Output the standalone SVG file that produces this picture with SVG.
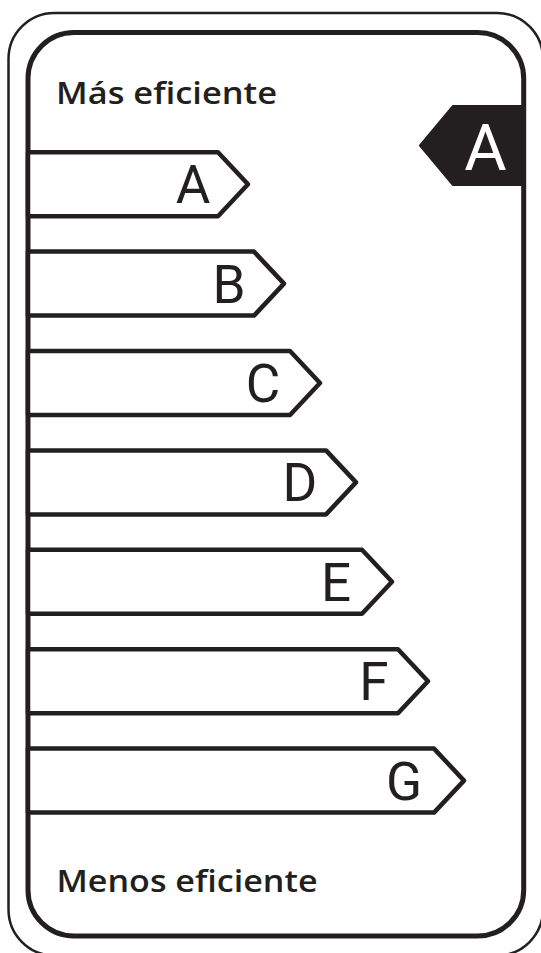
<svg xmlns="http://www.w3.org/2000/svg" width="541" height="953" viewBox="0 0 541 953">
<style>
.frame{fill:none;stroke:#231f20}
.bar{fill:#fff;stroke:#231f20;stroke-width:4.5;stroke-linejoin:round}
.lt{font-family:Roboto,"Liberation Sans",Arial,sans-serif;font-weight:400;font-size:53px;fill:#231f20;text-anchor:middle}
.hd{font-family:"Open Sans","Liberation Sans",sans-serif;font-weight:600;font-size:30px;fill:#231f20}
</style>
<rect width="541" height="953" fill="#fff"/>
<g id="frame">
<rect class="frame" x="8.5" y="13" width="534.5" height="942.5" rx="46" ry="46" stroke-width="2.5"/>
<rect class="frame" x="28" y="32.5" width="495.7" height="903.5" rx="46" ry="46" stroke-width="5"/>
</g>
<g id="title-top"><text class="hd" x="56" y="103.5" textLength="221" lengthAdjust="spacingAndGlyphs">Más eficiente</text></g>
<g id="title-bottom"><text class="hd" x="56.5" y="892" textLength="261" lengthAdjust="spacingAndGlyphs">Menos eficiente</text></g>
<g id="bar-A"><path class="bar" d="M28,152.2 H218 L248,184.2 L218,216.2 H28 Z"/><text class="lt" x="193" y="203.2">A</text></g>
<g id="bar-B"><path class="bar" d="M28,251.6 H254 L284,283.6 L254,315.6 H28 Z"/><text class="lt" x="229" y="302.6">B</text></g>
<g id="bar-C"><path class="bar" d="M28,351 H290 L320,383 L290,415 H28 Z"/><text class="lt" x="263" y="402">C</text></g>
<g id="bar-D"><path class="bar" d="M28,450.4 H326 L356,482.4 L326,514.4 H28 Z"/><text class="lt" x="300" y="501.4">D</text></g>
<g id="bar-E"><path class="bar" d="M28,549.8 H362 L392,581.8 L362,613.8 H28 Z"/><text class="lt" x="336" y="600.8">E</text></g>
<g id="bar-F"><path class="bar" d="M28,649.2 H398 L428,681.2 L398,713.2 H28 Z"/><text class="lt" x="374" y="700.2">F</text></g>
<g id="bar-G"><path class="bar" d="M28,748.6 H434 L464,780.6 L434,812.6 H28 Z"/><text class="lt" x="404" y="799.6">G</text></g>
<g id="tag-A">
<path d="M523.7,106 H453 L420,145.5 L453,185 H523.7 Z" fill="#231f20" stroke="#231f20" stroke-width="2" stroke-linejoin="round"/>
<text x="485.5" y="170" font-family="Roboto,Liberation Sans,Arial,sans-serif" font-weight="400" font-size="65" fill="#fff" text-anchor="middle">A</text>
</g>
</svg>
